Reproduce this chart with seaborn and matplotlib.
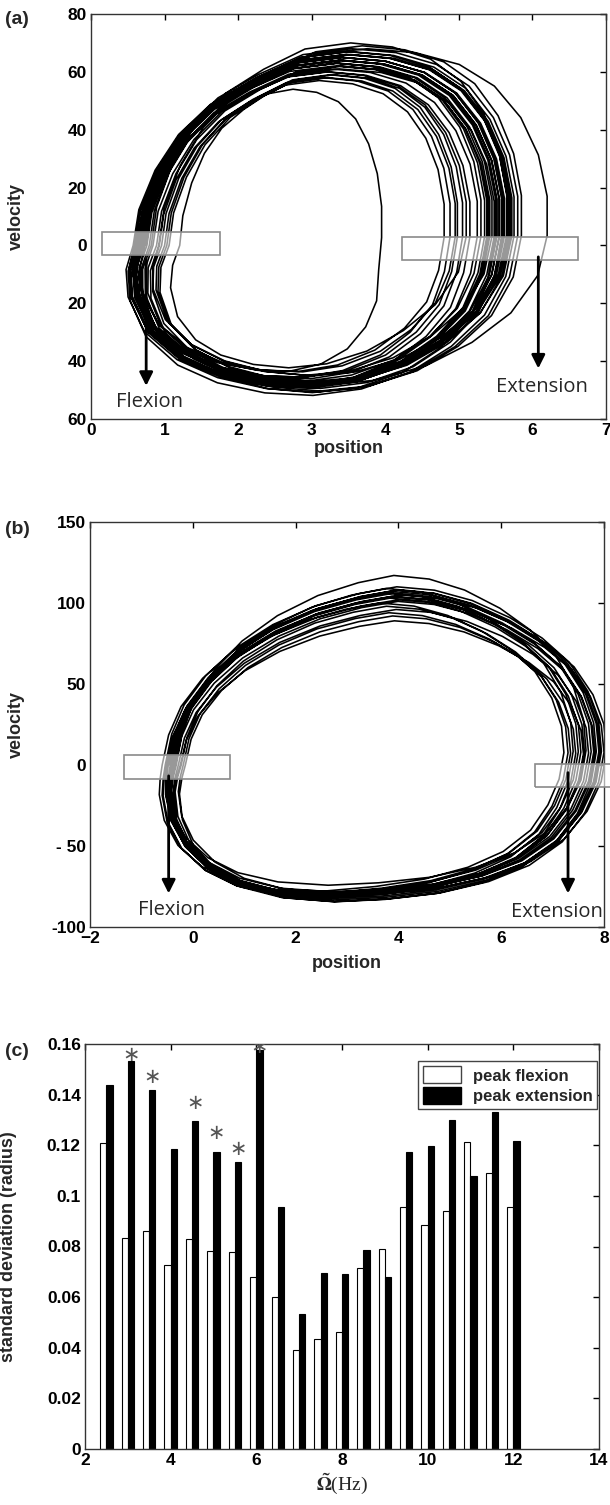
import numpy as np
import pandas as pd
import matplotlib
matplotlib.use("Agg")
import matplotlib.pyplot as plt
from matplotlib.patches import Rectangle, Patch
import seaborn as sns

# ---------------- data ----------------
# Panel (a): normalised loop shape (u along position, w along velocity)
shape_a_u = [0.02, 0.035, 0.078, 0.14, 0.224, 0.33, 0.444, 0.57, 0.685, 0.79, 0.874, 0.937,
             0.979, 1.0, 1.0, 0.979, 0.927, 0.843, 0.738, 0.612, 0.486, 0.36, 0.235, 0.13,
             0.046, 0.004, 0.0]
shape_a_w = [0.0, 0.19, 0.40, 0.59, 0.75, 0.87, 0.97, 1.0, 0.98, 0.92, 0.81, 0.65,
             0.46, 0.25, 0.05, -0.21, -0.47, -0.68, -0.85, -0.96, -1.0, -0.98, -0.91, -0.79,
             -0.6, -0.36, -0.17]
# per-cycle extents (left / right position, top / bottom velocity)
cyc_a_left = [0.66, 1.15, 0.58, 0.52, 0.80, 0.55, 0.47, 0.60, 0.92, 0.64, 0.56, 0.50, 0.72,
              0.85, 0.54, 0.62, 0.98, 0.57, 0.51, 0.70, 0.60, 0.53, 0.88, 0.58, 0.75, 0.49,
              0.67, 0.82, 0.56, 0.61, 0.95, 0.54]
cyc_a_right = [5.10, 3.95, 5.55, 5.70, 5.35, 5.80, 5.62, 5.45, 4.95, 5.25, 5.75, 5.50, 5.65,
               4.80, 5.40, 5.72, 5.05, 5.58, 6.20, 5.30, 5.48, 5.68, 4.88, 5.52, 5.38, 5.60,
               5.15, 5.85, 5.42, 5.66, 4.98, 5.55]
cyc_a_top = [60, 54, 64, 66, 62, 68, 65, 63, 58, 61, 67, 64, 70, 57, 62, 66, 59, 65, 68, 63,
             61, 66, 58, 64, 62, 65, 60, 69, 63, 67, 59, 64]
cyc_a_bottom = [-44, -40, -48, -50, -45, -52, -49, -47, -42, -46, -51, -53, -48, -41, -47,
                -50, -44, -49, -50, -46, -48, -51, -43, -49, -47, -50, -45, -52, -48, -50,
                -43, -49]

# Panel (b)
shape_b_u = [0.0098, 0.0244, 0.0526, 0.1015, 0.1687, 0.2543, 0.352, 0.45, 0.5355, 0.621,
             0.7066, 0.792, 0.8655, 0.9267, 0.9694, 0.9939, 1.0, 0.9878, 0.9572, 0.9083,
             0.835, 0.7433, 0.6333, 0.511, 0.3888, 0.2665, 0.1687, 0.0954, 0.0403, 0.0098,
             0.0, 0.0037]
shape_b_w = [0.0, 0.173, 0.337, 0.5, 0.654, 0.788, 0.894, 0.962, 1.0, 0.981, 0.923, 0.827,
             0.712, 0.577, 0.413, 0.24, 0.077, -0.122, -0.341, -0.549, -0.72, -0.841,
             -0.927, -0.976, -1.0, -0.976, -0.902, -0.78, -0.61, -0.415, -0.22, -0.098]
cyc_b_left = [-0.55, -0.45, -0.62, -0.30, -0.50, -0.22, -0.58, -0.40, -0.48, -0.68, -0.32,
              -0.52, -0.44, -0.60, -0.36, -0.50, -0.42, -0.26, -0.56, -0.46]
cyc_b_right = [7.75, 7.55, 7.95, 7.30, 7.85, 7.45, 8.05, 7.65, 7.22, 7.90, 7.60, 7.80,
               7.40, 8.00, 7.70, 7.50, 7.82, 7.35, 7.92, 7.62]
cyc_b_top = [106, 103, 110, 98, 108, 92, 105, 117, 100, 107, 89, 104, 109, 102, 96, 106,
             101, 94, 108, 104]
cyc_b_bottom = [-82, -78, -86, -74, -88, -80, -84, -76, -72, -85, -79, -83, -77, -87, -81,
                -75, -84, -73, -86, -80]

# Panel (c)
freqs = [2.5, 3, 3.5, 4, 4.5, 5, 5.5, 6, 6.5, 7, 7.5, 8, 8.5, 9, 9.5, 10, 10.5, 11, 11.5, 12]
peak_flexion = [0.121, 0.0833, 0.0862, 0.0728, 0.083, 0.0784, 0.078, 0.068, 0.0599, 0.0393,
                0.0434, 0.0463, 0.0714, 0.0791, 0.0957, 0.0886, 0.0941, 0.1214, 0.109, 0.0957]
peak_extension = [0.1438, 0.1533, 0.1417, 0.1186, 0.1296, 0.1175, 0.1134, 0.1576, 0.0957,
                  0.0532, 0.0697, 0.0693, 0.0787, 0.0678, 0.1175, 0.1199, 0.130, 0.1078,
                  0.1332, 0.1216]
star_freqs = [3, 3.5, 4.5, 5, 5.5, 6]
star_heights = [0.1557, 0.147, 0.1366, 0.1247, 0.1184, 0.159]
series_names = ["peak flexion", "peak extension"]

ya_ticks = [80, 60, 40, 20, 0, -20, -40, -60]
ya_labels = ["80", "60", "40", "20", "0", "20", "40", "60"]
yb_ticks = [-100, -50, 0, 50, 100, 150]
yb_labels = ["-100", "- 50", "0", "50", "100", "150"]
yc_ticks = [0, 0.02, 0.04, 0.06, 0.08, 0.1, 0.12, 0.14, 0.16]
yc_labels = ["0", "0.02", "0.04", "0.06", "0.08", "0.1", "0.12", "0.14", "0.16"]

# ---------------- style ----------------
sns.set_style("white")
plt.rcParams["font.family"] = ["Liberation Sans", "DejaVu Sans"]
plt.rcParams["font.weight"] = "bold"
plt.rcParams["axes.labelweight"] = "bold"
plt.rcParams["mathtext.fontset"] = "stix"

W, H = 610, 1505
fig = plt.figure(figsize=(W / 100, H / 100), dpi=100)


def px_axes(l, r, t, b):
    return fig.add_axes([l / W, 1 - b / H, (r - l) / W, (b - t) / H])


def build(shape_u, shape_w, lefts, rights, tops, bottoms):
    """Trace the cycles one after another; each cycle drifts into the next
    one's extents over its last part so the trajectory stays continuous."""
    u = np.array(shape_u)
    w = np.array(shape_w)
    n = len(u)
    t = np.arange(n) / n
    s = np.clip((t - 0.55) / 0.45, 0, 1)
    params = list(zip(lefts, rights, tops, bottoms))
    xs, ys = [], []
    for i, (l, r, tp, bt) in enumerate(params):
        l2, r2, tp2, bt2 = params[min(i + 1, len(params) - 1)]
        L = l + (l2 - l) * s
        R = r + (r2 - r) * s
        T = tp + (tp2 - tp) * s
        B = abs(bt) + (abs(bt2) - abs(bt)) * s
        xs.extend(L + u * (R - L))
        ys.extend(np.where(w >= 0, w * T, w * B))
    return pd.DataFrame({"position": xs, "velocity": ys})


def style_axes(ax):
    ax.tick_params(direction="in", top=True, right=True, length=4, width=1,
                   labelsize=12.5, pad=3, colors="black")
    for sp in ax.spines.values():
        sp.set_color("#333333")
        sp.set_linewidth(1.0)
        sp.set_visible(True)


text_font = ["Open Sans", "DejaVu Sans"]
arrow_kw = dict(arrowstyle="-|>", color="black", lw=2, mutation_scale=20)


def marker_box(ax, x0, y0, w, h):
    ax.add_patch(Rectangle((x0, y0), w, h, facecolor="white", alpha=0.6,
                           edgecolor="none", zorder=5, clip_on=False))
    ax.add_patch(Rectangle((x0, y0), w, h, facecolor="none",
                           edgecolor="#8a8a8a", lw=1.2, zorder=6, clip_on=False))


# ---------------- panel (a) ----------------
ax1 = px_axes(91, 606, 14, 419)
df_a = build(shape_a_u, shape_a_w, cyc_a_left, cyc_a_right, cyc_a_top, cyc_a_bottom)
sns.lineplot(data=df_a, x="position", y="velocity", sort=False, estimator=None,
             color="black", lw=1.15, ax=ax1)
ax1.set_xlim(0, 7)
ax1.set_ylim(-60, 80)
ax1.set_xticks(range(0, 8))
ax1.set_yticks(ya_ticks)
ax1.set_yticklabels(ya_labels)
style_axes(ax1)
ax1.set_xlabel("position", fontsize=13, labelpad=1)
ax1.set_ylabel("velocity", fontsize=13)
ax1.yaxis.set_label_coords(-0.128, 0.5)
marker_box(ax1, 0.15, -3.3, 1.6, 8.0)
marker_box(ax1, 4.23, -5.2, 2.39, 8.1)
ax1.annotate("", xy=(0.75, -49.5), xytext=(0.75, -4), arrowprops=arrow_kw, zorder=7)
ax1.annotate("", xy=(6.08, -43.5), xytext=(6.08, -3), arrowprops=arrow_kw, zorder=7)
ax1.text(0.8, -54, "Flexion", fontsize=14.5, fontweight="normal", family=text_font,
         ha="center", va="center", zorder=8)
ax1.text(6.13, -49, "Extension", fontsize=14.5, fontweight="normal", family=text_font,
         ha="center", va="center", zorder=8)

# ---------------- panel (b) ----------------
ax2 = px_axes(90, 604, 522, 927)
df_b = build(shape_b_u, shape_b_w, cyc_b_left, cyc_b_right, cyc_b_top, cyc_b_bottom)
sns.lineplot(data=df_b, x="position", y="velocity", sort=False, estimator=None,
             color="black", lw=1.15, ax=ax2)
ax2.set_xlim(-2, 8)
ax2.set_ylim(-100, 150)
ax2.set_xticks([-2, 0, 2, 4, 6, 8])
ax2.set_yticks(yb_ticks)
ax2.set_yticklabels(yb_labels)
style_axes(ax2)
ax2.set_xlabel("position", fontsize=13, labelpad=6)
ax2.set_ylabel("velocity", fontsize=13)
ax2.yaxis.set_label_coords(-0.126, 0.5)
marker_box(ax2, -1.34, -8.6, 2.07, 14.6)
marker_box(ax2, 6.66, -13.8, 1.6, 14.4)
ax2.annotate("", xy=(-0.47, -81), xytext=(-0.47, -5), arrowprops=arrow_kw, zorder=7)
ax2.annotate("", xy=(7.3, -81), xytext=(7.3, -3), arrowprops=arrow_kw, zorder=7)
ax2.text(-0.41, -89.5, "Flexion", fontsize=14.5, fontweight="normal", family=text_font,
         ha="center", va="center", zorder=8)
ax2.text(7.09, -90.5, "Extension", fontsize=14.5, fontweight="normal", family=text_font,
         ha="center", va="center", zorder=8, clip_on=False)

# ---------------- panel (c) ----------------
ax3 = px_axes(85, 599, 1044, 1449)
df_c = pd.DataFrame({
    "freq": freqs * 2,
    "sd": peak_flexion + peak_extension,
    "series": [series_names[0]] * len(freqs) + [series_names[1]] * len(freqs),
})
sns.barplot(data=df_c, x="freq", y="sd", hue="series", hue_order=series_names,
            native_scale=True, width=0.58, dodge=True, errorbar=None,
            palette={series_names[0]: "white", series_names[1]: "black"},
            edgecolor="black", linewidth=0.8, legend=False, ax=ax3)
ax3.set_xlim(2, 14)
ax3.set_ylim(0, 0.16)
ax3.set_xticks(range(2, 15, 2))
ax3.set_yticks(yc_ticks)
ax3.set_yticklabels(yc_labels)
style_axes(ax3)
ax3.set_xlabel(r"$\tilde{\Omega}$(Hz)", fontsize=14, fontweight="normal",
               family="Liberation Serif", labelpad=3)
ax3.set_ylabel("standard deviation (radius)", fontsize=13)
ax3.yaxis.set_label_coords(-0.132, 0.5)
for f, h in zip(star_freqs, star_heights):
    ax3.text(f + 0.0725, h, "\u2217", fontsize=15, color="#555555", ha="center",
             va="center", family="DejaVu Sans", fontweight="normal", clip_on=True)
handles = [Patch(facecolor="white", edgecolor="#444444", lw=1.0),
           Patch(facecolor="black", edgecolor="black", lw=1.0)]
leg = ax3.legend(handles, series_names, loc="upper right", bbox_to_anchor=(0.997, 0.957),
                 frameon=True, fancybox=False, edgecolor="#444444", framealpha=1,
                 fontsize=12, handlelength=2.3, handleheight=1.2, borderpad=0.3,
                 labelspacing=0.2, handletextpad=0.7, borderaxespad=0)
leg.get_frame().set_linewidth(1.0)

# panel labels
fig.text(5 / W, 1 - 20 / H, "(a)", fontsize=14, fontweight="bold", va="center")
fig.text(5 / W, 1 - 530 / H, "(b)", fontsize=14, fontweight="bold", va="center")
fig.text(5 / W, 1 - 1052 / H, "(c)", fontsize=14, fontweight="bold", va="center")

fig.savefig("out.png", dpi=100)
